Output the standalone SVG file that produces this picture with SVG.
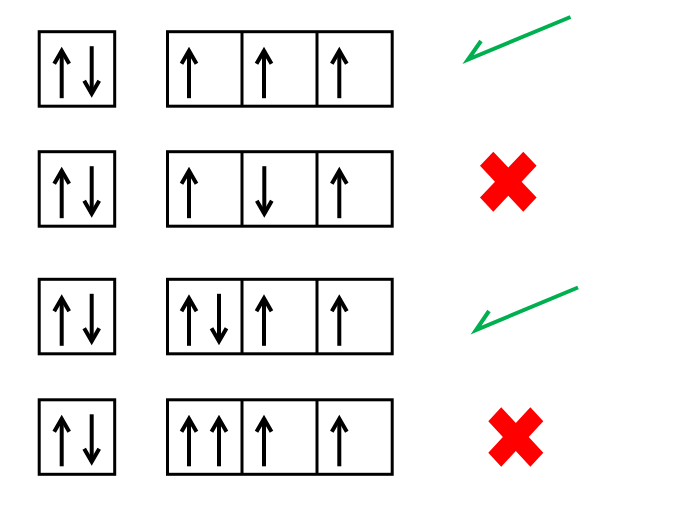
<svg xmlns="http://www.w3.org/2000/svg" xmlns:xlink="http://www.w3.org/1999/xlink" width="690" height="516" viewBox="0 0 690 516">
<style>
.box{fill:none;stroke:#000;stroke-width:3}
.arr{fill:none;stroke:#000;stroke-width:4;stroke-linejoin:miter;stroke-miterlimit:6}
.chk{fill:none;stroke:#00B050;stroke-width:4;stroke-linejoin:miter;stroke-linecap:butt}
.x{fill:#FF0000}
</style>
<defs>
<g id="up" class="arr"><line x1="0" y1="19" x2="0" y2="66.5"/><polyline points="-7.5,32 0,19 7.5,32"/></g>
<g id="dn" class="arr"><line x1="0" y1="14.5" x2="0" y2="62"/><polyline points="-7.5,49 0,62 7.5,49"/></g>
<polygon id="cross" points="0,-13.4 15.1,-28.5 28.5,-15.1 13.4,0 28.5,15.1 15.1,28.5 0,13.4 -15.1,28.5 -28.5,15.1 -13.4,0 -28.5,-15.1 -15.1,-28.5"/>
</defs>
<rect width="690" height="516" fill="#fff"/>
<g id="connectors"/>

<g id="row1-s" transform="translate(0,31.7)">
<rect class="box" x="39.2" y="0" width="75.5" height="74.5"/>
<use xlink:href="#up" x="61.7"/><use xlink:href="#dn" x="91.7"/>
</g>
<g id="row1-p" transform="translate(0,31.7)">
<rect class="box" x="167.5" y="0" width="224.7" height="74.5"/>
<line class="box" x1="242" y1="0" x2="242" y2="74.5"/><line class="box" x1="317" y1="0" x2="317" y2="74.5"/>
<use xlink:href="#up" x="189"/><use xlink:href="#up" x="264"/><use xlink:href="#up" x="339.3"/>
</g>
<g id="row1-mark"><polyline class="chk" points="570.5,17 468,59.5 481,41"/></g>

<g id="row2-s" transform="translate(0,151.7)">
<rect class="box" x="39.2" y="0" width="75.5" height="74.5"/>
<use xlink:href="#up" x="61.7"/><use xlink:href="#dn" x="91.7"/>
</g>
<g id="row2-p" transform="translate(0,151.7)">
<rect class="box" x="167.5" y="0" width="224.7" height="74.5"/>
<line class="box" x1="242" y1="0" x2="242" y2="74.5"/><line class="box" x1="317" y1="0" x2="317" y2="74.5"/>
<use xlink:href="#up" x="189"/><use xlink:href="#dn" x="264.3"/><use xlink:href="#up" x="339.3"/>
</g>
<g id="row2-mark"><use class="x" xlink:href="#cross" transform="translate(508.3,181.7) scale(0.993,1.053)"/></g>

<g id="row3-s" transform="translate(0,279.3)">
<rect class="box" x="39.2" y="0" width="75.5" height="74.5"/>
<use xlink:href="#up" x="61.7"/><use xlink:href="#dn" x="91.7"/>
</g>
<g id="row3-p" transform="translate(0,279.3)">
<rect class="box" x="167.5" y="0" width="224.7" height="74.5"/>
<line class="box" x1="242" y1="0" x2="242" y2="74.5"/><line class="box" x1="317" y1="0" x2="317" y2="74.5"/>
<use xlink:href="#up" x="189"/><use xlink:href="#dn" x="219"/><use xlink:href="#up" x="264"/><use xlink:href="#up" x="339.3"/>
</g>
<g id="row3-mark"><polyline class="chk" points="578,287.5 476,330 489,311"/></g>

<g id="row4-s" transform="translate(0,399.8)">
<rect class="box" x="39.2" y="0" width="75.5" height="74.5"/>
<use xlink:href="#up" x="61.7"/><use xlink:href="#dn" x="91.7"/>
</g>
<g id="row4-p" transform="translate(0,399.8)">
<rect class="box" x="167.5" y="0" width="224.7" height="74.5"/>
<line class="box" x1="242" y1="0" x2="242" y2="74.5"/><line class="box" x1="317" y1="0" x2="317" y2="74.5"/>
<use xlink:href="#up" x="189"/><use xlink:href="#up" x="219"/><use xlink:href="#up" x="264"/><use xlink:href="#up" x="339.3"/>
</g>
<g id="row4-mark"><use class="x" xlink:href="#cross" transform="translate(515.8,437) scale(0.965,1.042)"/></g>
</svg>
